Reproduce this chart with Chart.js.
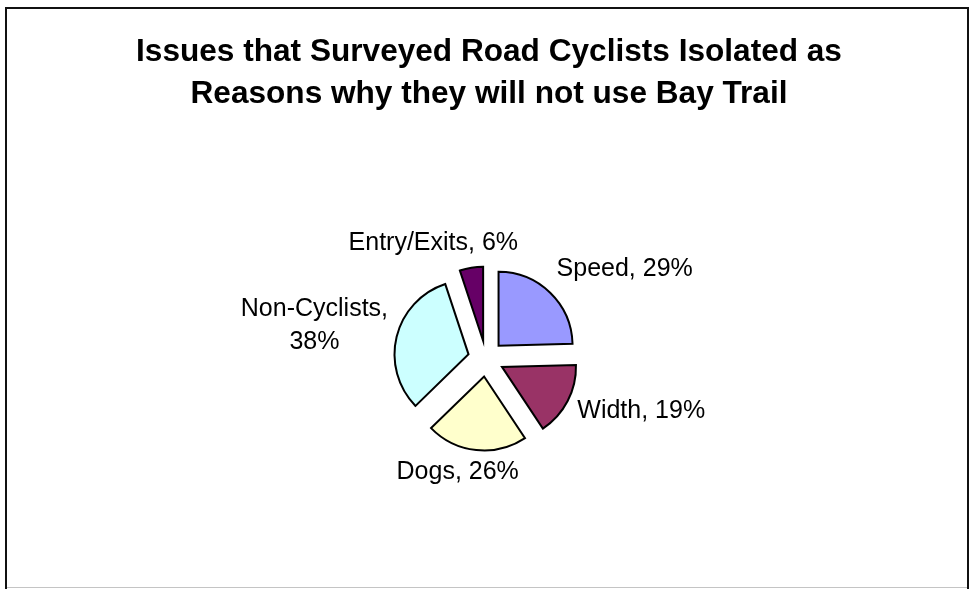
<!DOCTYPE html>
<html><head><meta charset="utf-8">
<script src="https://cdn.jsdelivr.net/npm/chart.js@4"></script>
<style>
html,body{margin:0;padding:0;background:#fff;}
#wrap{position:relative;width:969px;height:589px;overflow:hidden;background:#fff;}
canvas{position:absolute;left:0;top:0;}
#frame{position:absolute;left:5px;top:7px;width:964px;height:582px;box-sizing:border-box;border:2px solid #111;border-bottom:none;pointer-events:none;}
#base{position:absolute;left:7px;top:587px;width:960px;height:1px;background:#c4c4c4;}
</style></head><body>
<div id="wrap"><canvas id="c" width="969" height="589"></canvas><div id="frame"></div><div id="base"></div></div>
<script>
// ---- data ----
const categories = ['Speed', 'Width', 'Dogs', 'Non-Cyclists', 'Entry/Exits'];
const percentValues = [29, 19, 26, 38, 6];
const sliceColors = ['#9999FF', '#993366', '#FFFFCC', '#CCFFFF', '#660066'];
const titleLines = ['Issues that Surveyed Road Cyclists Isolated as', 'Reasons why they will not use Bay Trail'];
// ---- layout (label nudges relative to computed anchor) ----
const labelNudges = [[20, -7], [8, 0], [-11, 0], [-1, -2], [-23, -2]];

const EXPLODE = 18, LABEL_FONT = 25, LINE_H = 33.4, GAP = 10, WRAP = 180;
const FONT_FAMILY = '"Liberation Sans", Arial, sans-serif';

const explodePlugin = {
  id: 'explode',
  afterDatasetsUpdate(chart) {
    const meta = chart.getDatasetMeta(0);
    meta.data.forEach(arc => {
      const mid = (arc.startAngle + arc.endAngle) / 2;
      arc.x += Math.cos(mid) * EXPLODE;
      arc.y += Math.sin(mid) * EXPLODE;
    });
  }
};

const textPlugin = {
  id: 'texts',
  afterDatasetsDraw(chart) {
    const ctx = chart.ctx;
    const meta = chart.getDatasetMeta(0);
    ctx.save();
    ctx.fillStyle = '#000';
    // title
    ctx.font = 'bold 31.6px ' + FONT_FAMILY;
    ctx.textAlign = 'center';
    ctx.textBaseline = 'alphabetic';
    ctx.fillText(titleLines[0], 489, 60.7);
    ctx.fillText(titleLines[1], 489, 102.7);
    // data labels
    ctx.font = LABEL_FONT + 'px ' + FONT_FAMILY;
    ctx.textBaseline = 'middle';
    meta.data.forEach((arc, i) => {
      const full = categories[i] + ', ' + percentValues[i] + '%';
      const lines = ctx.measureText(full).width > WRAP ? [categories[i] + ',', percentValues[i] + '%'] : [full];
      const w = Math.max(...lines.map(l => ctx.measureText(l).width));
      const h = LABEL_FONT + (lines.length - 1) * LINE_H;
      const mid = (arc.startAngle + arc.endAngle) / 2;
      const dx = Math.cos(mid), dy = Math.sin(mid);
      const r = arc.outerRadius + GAP;
      const cx = arc.x + dx * r + dx * w / 2 + labelNudges[i][0];
      const cy = arc.y + dy * r + dy * h / 2 + labelNudges[i][1];
      lines.forEach((l, j) => ctx.fillText(l, cx, cy - (lines.length - 1) * LINE_H / 2 + j * LINE_H));
    });
    ctx.restore();
  }
};

new Chart(document.getElementById('c'), {
  type: 'pie',
  data: {
    labels: categories,
    datasets: [{
      data: percentValues,
      backgroundColor: sliceColors,
      borderColor: '#000',
      borderWidth: 2,
      borderJoinStyle: 'miter',
      radius: 74
    }]
  },
  options: {
    responsive: false,
    animation: false,
    events: [],
    layout: { padding: { left: 3, right: 0, top: 128.2, bottom: 0 } },
    plugins: { legend: { display: false }, tooltip: { enabled: false }, title: { display: false } }
  },
  plugins: [explodePlugin, textPlugin]
});
</script>
</body></html>
